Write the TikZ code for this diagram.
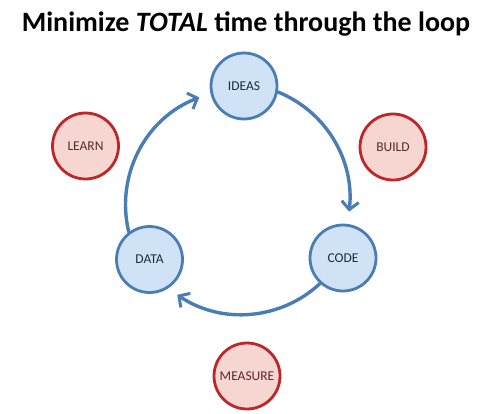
\documentclass[tikz,border=0pt]{standalone}
\usepackage{fontspec}
\setmainfont{Carlito}
\usetikzlibrary{arrows.meta}
\definecolor{loopfill}{HTML}{CFE2F6}
\definecolor{loopline}{HTML}{4A7DB3}
\definecolor{looptext}{HTML}{1E2B3C}
\definecolor{stagefill}{HTML}{F6D6D1}
\definecolor{stageline}{HTML}{BE2629}
\definecolor{stagetext}{HTML}{5A2B2B}
\begin{document}
\begin{tikzpicture}[x=1pt,y=1pt,
  loopnode/.style={circle, draw=loopline, fill=loopfill, line width=2.8pt,
    minimum size=66pt, inner sep=0pt, text=looptext, font=\fontsize{13.5}{15}\selectfont},
  stagenode/.style={circle, draw=stageline, fill=stagefill, line width=2.8pt,
    minimum size=66pt, inner sep=0pt, text=stagetext, font=\fontsize{13.5}{15}\selectfont},
  looparrow/.style={draw=loopline, line width=3.4pt, line cap=round,
    -{Straight Barb[length=8pt,width=17pt,line width=3pt]}}]
\useasboundingbox (0,0) rectangle (486,-413);
\fill[white] (0,0) rectangle (486,-413);

% title
\node[anchor=base, font=\fontsize{28}{32}\selectfont\bfseries] (title) at (246,-31)
  {Minimize \textit{TOTAL} time through the loop};

% the loop
\node[loopnode] (ideas) at (244,-86) {IDEAS};
\node[loopnode] (code) at (343,-258) {CODE};
\node[loopnode] (data) at (149.5,-259.5) {DATA};

% stages between the loop nodes
\node[stagenode] (build) at (393,-147) {BUILD};
\node[stagenode] (learn) at (85.5,-146) {LEARN};
\node[stagenode] (measure) at (247,-376) {MEASURE};

% arcs of the loop
\draw[looparrow] (ideas.-10) arc[start angle=68, end angle=-6.5, radius=115];
\draw[looparrow] (code.228) arc[start angle=-47, end angle=-124, radius=115];
\draw[looparrow] (data.127) arc[start angle=193.7, end angle=111, radius=115];
\end{tikzpicture}
\end{document}
